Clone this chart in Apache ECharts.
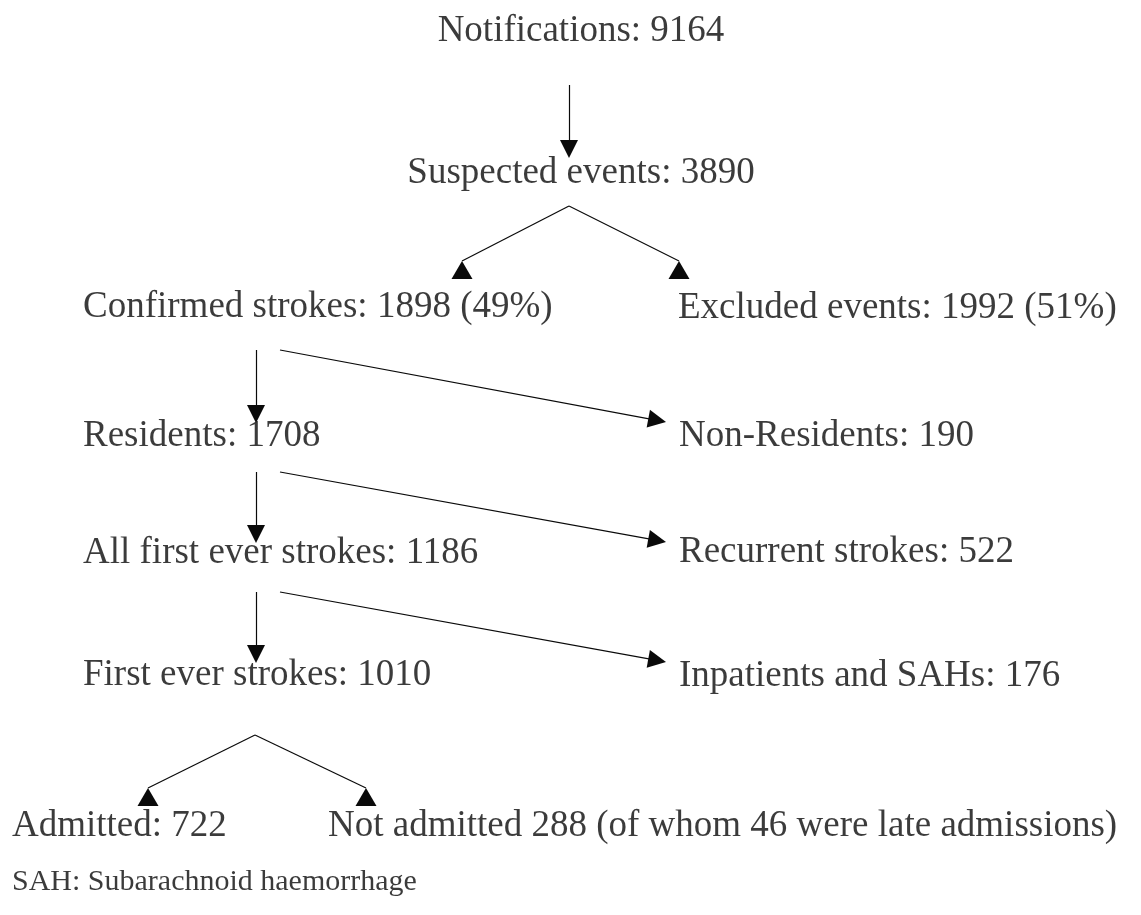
<!DOCTYPE html>
<html>
<head>
<meta charset="utf-8">
<script src="https://cdn.jsdelivr.net/npm/echarts@6/dist/echarts.min.js"></script>
<style>
  html, body { margin: 0; padding: 0; background: #fff; }
  #chart { width: 1141px; height: 915px; }
</style>
</head>
<body>
<div id="chart"></div>
<script>
// flowchart content
const stages = ['Notifications', 'Suspected events', 'Confirmed strokes', 'Excluded events',
  'Residents', 'Non-Residents', 'All first ever strokes', 'Recurrent strokes',
  'First ever strokes', 'Inpatients and SAHs', 'Admitted', 'Not admitted'];
const counts = [9164, 3890, 1898, 1992, 1708, 190, 1186, 522, 1010, 176, 722, 288];
const separators = [': ', ': ', ': ', ': ', ': ', ': ', ': ', ': ', ': ', ': ', ': ', ' '];
const notes = ['', '', ' (49%)', ' (51%)', '', '', '', '', '', '', '', ' (of whom 46 were late admissions)'];
const footnote = 'SAH: Subarachnoid haemorrhage';

// layout (pixel space of the 1141x915 canvas)
const textX = [581, 581, 83, 678, 83, 679, 83, 679, 83, 679, 12, 328];
const textY = [31, 173, 307, 308, 436, 436, 553, 552, 675, 676, 826, 826];
const textAlign = ['center', 'center', 'left', 'left', 'left', 'left', 'left', 'left', 'left', 'left', 'left', 'left'];
const footX = 12, footY = 882;

// arrows with a head along the line: [from, tip]
const arrows = [
  [[569, 85], [569, 158]],
  [[256, 350], [256, 423]],
  [[280, 350], [666, 422]],
  [[256, 472], [256, 543]],
  [[280, 472], [666, 542]],
  [[256, 592], [256, 663]],
  [[280, 592], [666, 662]]
];
// split lines ending in an upright triangle: [from, to]
const splits = [
  [[569, 206], [462, 261]],
  [[569, 206], [679, 261]],
  [[255, 735], [148, 788]],
  [[255, 735], [366, 788]]
];

const HEAD = 18;
const TRI = [21, 18];
const FONT = "'Liberation Serif', 'Times New Roman', serif";
const INK = '#0a0a0a';

function backOff(from, tip, d){
  const dx = tip[0] - from[0], dy = tip[1] - from[1];
  const len = Math.sqrt(dx * dx + dy * dy);
  return [tip[0] - dx / len * d, tip[1] - dy / len * d];
}

const labelData = stages.map((s, i) => ({
  value: [textX[i], textY[i]],
  name: s + separators[i] + counts[i] + notes[i],
  label: { align: textAlign[i] }
}));
labelData.push({
  value: [footX, footY],
  name: footnote,
  label: { align: 'left', fontSize: 30 }
});

const chart = echarts.init(document.getElementById('chart'));
chart.setOption({
  animation: false,
  backgroundColor: '#fff',
  grid: { left: 0, right: 0, top: 0, bottom: 0 },
  xAxis: { type: 'value', min: 0, max: 1141, show: false },
  yAxis: { type: 'value', min: 0, max: 915, inverse: true, show: false },
  series: [
    {
      type: 'lines',
      coordinateSystem: 'cartesian2d',
      silent: true,
      symbol: ['none', 'triangle'],
      symbolSize: HEAD,
      lineStyle: { color: INK, width: 1.2, opacity: 1 },
      itemStyle: { color: INK },
      data: arrows.map(a => ({ coords: [a[0], backOff(a[0], a[1], HEAD / 2)] }))
    },
    {
      type: 'lines',
      coordinateSystem: 'cartesian2d',
      silent: true,
      symbol: ['none', 'none'],
      lineStyle: { color: INK, width: 1.2, opacity: 1 },
      data: splits.map(a => ({ coords: [a[0], a[1]] }))
    },
    {
      type: 'scatter',
      silent: true,
      symbol: 'triangle',
      symbolSize: TRI,
      itemStyle: { color: INK, opacity: 1 },
      data: splits.map(a => [a[1][0], a[1][1] + TRI[1] / 2])
    },
    {
      type: 'scatter',
      silent: true,
      symbol: 'circle',
      symbolSize: 1,
      itemStyle: { color: 'rgba(0,0,0,0)' },
      label: {
        show: true,
        position: 'inside',
        formatter: p => p.name,
        fontFamily: FONT,
        fontSize: 37,
        color: INK,
        verticalAlign: 'middle'
      },
      data: labelData
    }
  ]
});
</script>
</body>
</html>
